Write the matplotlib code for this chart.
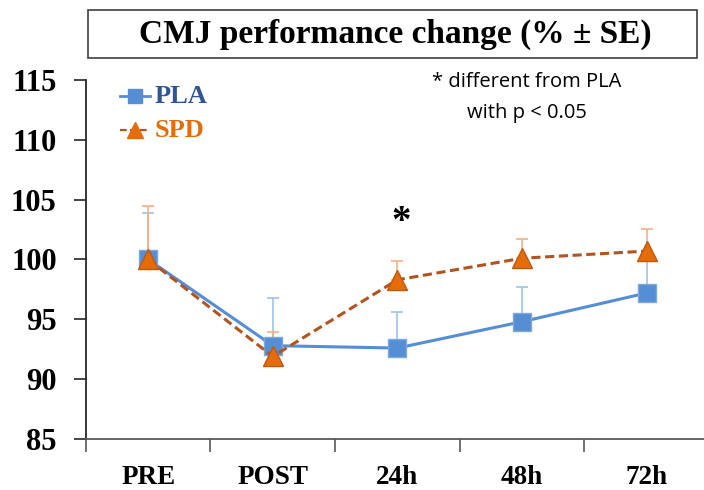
import matplotlib.pyplot as plt
from matplotlib.patches import Rectangle
import numpy as np

timepoints = ["PRE", "POST", "24h", "48h", "72h"]
pla_mean = [100.0, 92.8, 92.6, 94.8, 97.2]
pla_se = [3.9, 4.0, 3.0, 2.9, 3.0]
spd_mean = [100.0, 91.9, 98.3, 100.1, 100.7]
spd_se = [4.5, 2.0, 1.6, 1.6, 1.85]

serif = "Liberation Serif"
sans = "Open Sans"

fig = plt.figure(figsize=(7.04, 4.90), dpi=100)
ax = fig.add_axes([0.122, 0.104, 0.885, 0.733])

x = np.arange(len(timepoints))
zeros = np.zeros(len(x))

# error bars first (only the upper half is shown)
ax.errorbar(x, pla_mean, yerr=[zeros, pla_se], fmt='none', ecolor='#9DC3E6',
            elinewidth=1.2, capsize=4, capthick=1.2, zorder=2)
ax.errorbar(x, spd_mean, yerr=[zeros, spd_se], fmt='none', ecolor='#F4B183',
            elinewidth=1.2, capsize=4, capthick=1.2, zorder=2)

ax.plot(x, pla_mean, color='#558ED5', linewidth=2.2, marker='s', markersize=13,
        markerfacecolor='#558ED5', markeredgecolor='#7FA8DD', zorder=3)
ax.plot(x, spd_mean, color='#B3541E', linewidth=2.2, linestyle=(0, (3, 1.5)),
        marker='^', markersize=14, markerfacecolor='#E46C0A',
        markeredgecolor='#C0580F', zorder=4)

ax.set_xlim(-0.5, 4.5)
ax.set_ylim(85, 115)
ax.set_yticks([85, 90, 95, 100, 105, 110, 115])
ax.set_xticks(x)
ax.set_xticklabels(timepoints)
ax.set_xticks(np.arange(-0.5, 4.0, 1.0), minor=True)
ax.tick_params(axis='x', which='major', length=0, pad=19)
ax.tick_params(axis='x', which='minor', length=9, direction='out', color='#595959', width=1.2)
ax.tick_params(axis='y', length=9, direction='out', color='#262626', width=1.2, pad=12)
for lab in ax.get_xticklabels():
    lab.set_fontfamily(serif)
    lab.set_fontweight('bold')
    lab.set_fontsize(19.5)
for lab in ax.get_yticklabels():
    lab.set_fontfamily(serif)
    lab.set_fontweight('bold')
    lab.set_fontsize(22)

ax.spines['top'].set_visible(False)
ax.spines['right'].set_visible(False)
ax.spines['left'].set_color('#262626')
ax.spines['left'].set_linewidth(1.3)
ax.spines['bottom'].set_color('#595959')
ax.spines['bottom'].set_linewidth(1.3)

# legend drawn by hand to get coloured labels
lx = [-0.227, 0.014]
ax.plot(lx, [113.65, 113.65], color='#558ED5', linewidth=2, zorder=5)
ax.plot(np.mean(lx), 113.65, marker='s', markersize=10, color='#558ED5', zorder=5)
ax.text(0.054, 113.65, "PLA", fontfamily=serif, fontweight='bold', fontsize=19,
        color='#2F5597', va='center', ha='left')
ax.plot(lx, [110.8, 110.8], color='#B3541E', linewidth=1.6, linestyle=(0, (3, 1.5)), zorder=5)
ax.plot(np.mean(lx), 110.8, marker='^', markersize=11, color='#E46C0A', zorder=5)
ax.text(0.054, 110.8, "SPD", fontfamily=serif, fontweight='bold', fontsize=19,
        color='#E46C0A', va='center', ha='left')

ax.text(3.04, 113.55, "* different from PLA\nwith p < 0.05", fontfamily=sans, fontsize=14.5,
        ha='center', va='center', linespacing=1.75, color='black')
ax.text(2.03, 103.1, "*", fontfamily=serif, fontweight='bold', fontsize=28,
        ha='center', va='center', color='black')

# title in a box
fig.patches.append(Rectangle((88 / 704, 1 - 58 / 490), (697 - 88) / 704, 48 / 490,
                             transform=fig.transFigure, facecolor='white',
                             edgecolor='#404040', linewidth=1.2))
fig.text(0.562, 1 - 34 / 490, "CMJ performance change (% \u00b1 SE)", fontfamily=serif,
         fontweight='bold', fontsize=24, ha='center', va='center')

fig.savefig("out.png", dpi=100)
